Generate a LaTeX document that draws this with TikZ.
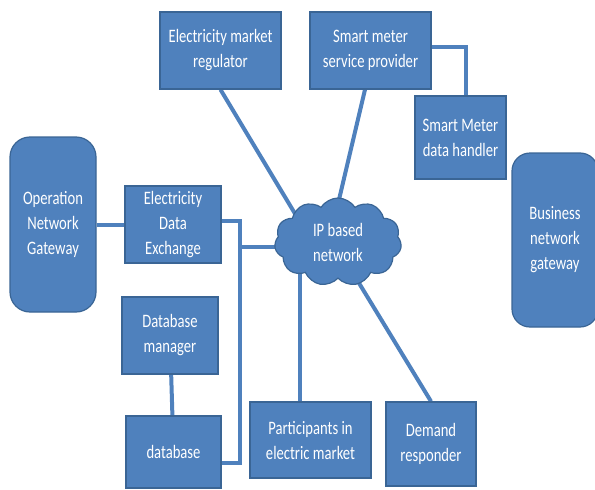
\documentclass[tikz,border=0pt]{standalone}
\usepackage{fontspec}
\setmainfont[FakeStretch=0.77]{Carlito}
\usetikzlibrary{shapes.symbols,calc,backgrounds}
\definecolor{boxblue}{HTML}{4F81BD}
\definecolor{edgeblue}{HTML}{3A6595}
\begin{document}
\begin{tikzpicture}[x=1pt,y=-1pt,
  box/.style={draw=edgeblue, fill=boxblue, line width=1.2pt, text=white,
    font=\fontsize{19}{25}\selectfont, align=center, inner sep=0pt},
  roundbox/.style={box, rounded corners=20pt},
  cloudbox/.style={box, cloud, cloud puffs=11, cloud puff arc=115, cloud ignores aspect},
  link/.style={draw=boxblue, line width=4pt}]
\useasboundingbox (0,0) rectangle (595,490);

\node[box, minimum width=121pt, minimum height=77pt] (reg) at (220.5,50.5) {Electricity market\\regulator};
\node[box, minimum width=121pt, minimum height=77pt] (smsp) at (370.5,50.5) {Smart meter\\service provider};
\node[box, minimum width=91pt, minimum height=83pt] (smdh) at (460.5,137.5) {Smart Meter\\data handler};
\node[roundbox, minimum width=86pt, minimum height=175pt] (ong) at (53,224.5) {Operation\\Network\\Gateway};
\node[box, minimum width=96pt, minimum height=77pt] (ede) at (173,224.5) {Electricity\\Data\\Exchange};
\node[roundbox, rounded corners=18pt, minimum width=86pt, minimum height=174pt] (bng) at (555,240) {Business\\network\\gateway};
\node[cloudbox, minimum width=127pt, minimum height=88pt] (cloud) at (338,242) {IP based\\network};
\node[box, minimum width=96pt, minimum height=77pt] (dbm) at (170,335.5) {Database\\manager};
\node[box, minimum width=95pt, minimum height=72pt] (db) at (173.5,452) {database};
\node[box, minimum width=121pt, minimum height=76pt] (part) at (310.5,440) {Participants in\\electric market};
\node[box, minimum width=90pt, minimum height=84pt] (dem) at (431,444) {Demand\\responder};

\coordinate (spine) at (240,247);

\begin{scope}[on background layer]
\draw[link] (ong) -- (ede);
\draw[link] ([yshift=3.5pt]ede.east) -| (spine) |- ([yshift=-11pt]db.east);
\draw[link] (spine) -- (spine -| cloud.center);
\draw[link] (reg.south) -- ($(cloud.center)+(-26,0)$);
\draw[link] ([xshift=-5.5pt]smsp.south) -- ($(cloud.center)+(-9,0)$);
\draw[link] ([yshift=3.5pt]smsp.east) -| ([xshift=5.5pt]smdh.north);
\draw[link] ([xshift=-10.5pt]part.north) -- ([xshift=-10.5pt]part.north |- cloud.center);
\draw[link] (dem.north) -- ($(cloud.center)+(-4,0)$);
\draw[link] (dbm) -- (db);
\end{scope}
\end{tikzpicture}
\end{document}
